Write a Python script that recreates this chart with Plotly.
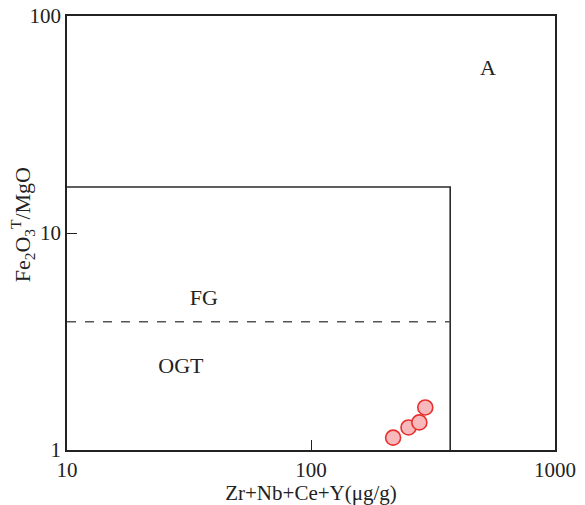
import plotly.graph_objects as go

# Sample data
sample_x = [217, 251, 278, 294]
sample_y = [1.14, 1.27, 1.34, 1.57]

# Field boundaries
box_x = [10, 372, 372]
box_y = [16.3, 16.3, 1]
fg_ogt_x = [10, 372]
fg_ogt_y = [3.9, 3.9]

# Field labels
label_text = ["A", "FG", "OGT"]
label_x = [531, 36.4, 29.3]
label_y = [56.4, 4.96, 2.39]

x_tickvals = [10, 100, 1000]
y_tickvals = [1, 10, 100]

FONT = "Liberation Serif"

fig = go.Figure()
fig.add_trace(go.Scatter(x=box_x, y=box_y, mode="lines",
                         line=dict(color="#2a2a2a", width=1.6), hoverinfo="skip"))
fig.add_trace(go.Scatter(x=fg_ogt_x, y=fg_ogt_y, mode="lines",
                         line=dict(color="#555555", width=1.5, dash="dash"), hoverinfo="skip"))
fig.add_trace(go.Scatter(x=label_x, y=label_y, mode="text", text=label_text,
                         textfont=dict(family=FONT, size=22, color="#222222"),
                         textposition="middle center", hoverinfo="skip"))
fig.add_trace(go.Scatter(x=sample_x, y=sample_y, mode="markers",
                         marker=dict(size=15, color="#f7b9bb",
                                     line=dict(color="#e8312f", width=1.6))))

axis_common = dict(showgrid=False, zeroline=False, showline=True, linecolor="#222222",
                   linewidth=1.6, mirror=True, ticks="inside", ticklen=10,
                   tickcolor="#222222", tickwidth=1.3, automargin=False,
                   tickfont=dict(family=FONT, size=21, color="#222222"))

fig.update_layout(
    width=585, height=505,
    margin=dict(l=67, r=30, t=16, b=55),
    paper_bgcolor="white", plot_bgcolor="white",
    showlegend=False,
    xaxis=dict(type="log", range=[1, 3], tickvals=x_tickvals,
               ticktext=[str(v) for v in x_tickvals],
               title=dict(text="Zr+Nb+Ce+Y(μg/g)", font=dict(family=FONT, size=21, color="#222222"),
                          standoff=2),
               **axis_common),
    yaxis=dict(type="log", range=[0, 2], tickvals=y_tickvals,
               ticktext=[str(v) for v in y_tickvals],
               **axis_common),
    annotations=[dict(text="Fe<sub>2</sub>O<sub>3</sub><sup>T</sup>/MgO",
                      xref="paper", yref="paper", x=-0.092, y=0.518,
                      xanchor="center", yanchor="middle", textangle=-90,
                      showarrow=False,
                      font=dict(family=FONT, size=22, color="#222222"))],
)

fig.write_html("out.html", post_script="document.body.style.margin='0';",
               config={"displayModeBar": False})
